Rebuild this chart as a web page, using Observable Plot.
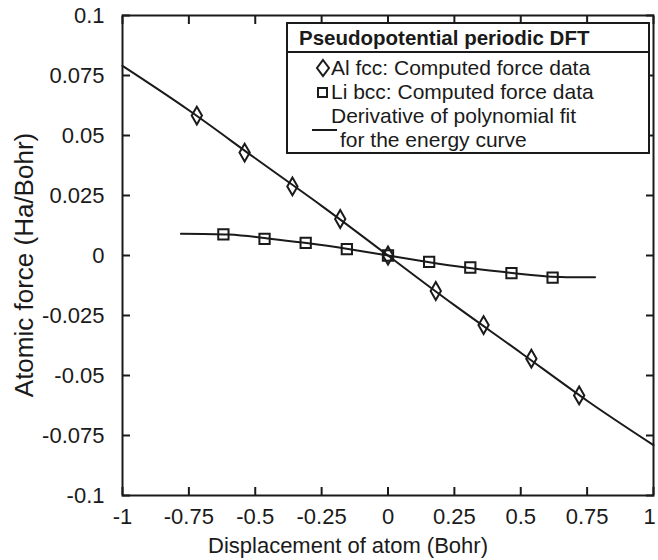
<!DOCTYPE html>
<html>
<head>
<meta charset="utf-8">
<script src="https://cdn.jsdelivr.net/npm/d3@7"></script>
<script src="https://cdn.jsdelivr.net/npm/@observablehq/plot@0.6"></script>
<style>
  html, body { margin: 0; padding: 0; background: #fff; }
  #chart svg { font-family: "Liberation Sans", Arial, sans-serif; }
</style>
</head>
<body>
<div id="chart"></div>
<script>
// Al fcc computed force data
const alX = [-0.72, -0.54, -0.36, -0.18, 0, 0.18, 0.36, 0.54, 0.72];
const alF = [0.0583, 0.0429, 0.0288, 0.0152, 0, -0.0148, -0.0290, -0.0430, -0.0583];
// Li bcc computed force data
const liX = [-0.62, -0.465, -0.31, -0.155, 0, 0.155, 0.31, 0.465, 0.62];
const liF = [0.0088, 0.0069, 0.0053, 0.0027, 0, -0.0027, -0.0050, -0.0073, -0.0092];
// Derivative of polynomial fit
const alFitX = [-1, -0.75, -0.5, -0.25, 0, 0.25, 0.5, 0.75, 1];
const alFitF = [0.0790, 0.0605, 0.0405, 0.0207, 0, -0.0207, -0.0405, -0.0605, -0.0790];
const liFitX = [-0.78, -0.6, -0.45, -0.3, -0.15, 0, 0.15, 0.3, 0.45, 0.6, 0.78];
const liFitF = [0.0091, 0.0087, 0.0071, 0.0051, 0.0027, 0, -0.0027, -0.0051, -0.0071, -0.0087, -0.0091];

const xTicks = [-1, -0.75, -0.5, -0.25, 0, 0.25, 0.5, 0.75, 1];
const yTicks = [-0.1, -0.075, -0.05, -0.025, 0, 0.025, 0.05, 0.075, 0.1];
const xLabel = "Displacement of atom (Bohr)";
const yLabel = "Atomic force (Ha/Bohr)";
const legendTitle = "Pseudopotential periodic DFT";
const legendItems = ["Al fcc: Computed force data", "Li bcc: Computed force data", "Derivative of polynomial fit", "for the energy curve"];

const al = alX.map((x, i) => ({x, y: alF[i]}));
const li = liX.map((x, i) => ({x, y: liF[i]}));
const alFit = alFitX.map((x, i) => ({x, y: alFitF[i]}));
const liFit = liFitX.map((x, i) => ({x, y: liFitF[i]}));

const fmt = d => d === 0 ? "0" : String(d);
const ink = "#1a1a1a";
const xMax = xTicks[xTicks.length - 1];

const plot = Plot.plot({
  width: 658,
  height: 560,
  marginLeft: 122,
  marginRight: 5,
  marginTop: 15,
  marginBottom: 65,
  style: {fontFamily: '"Liberation Sans", Arial, sans-serif', fontSize: "22px", color: ink, background: "#fff"},
  x: {domain: [-1, 1]},
  y: {domain: [-0.1, 0.1]},
  marks: [
    Plot.line(alFit, {x: "x", y: "y", curve: "natural", stroke: ink, strokeWidth: 2}),
    Plot.line(liFit, {x: "x", y: "y", curve: "natural", stroke: ink, strokeWidth: 2}),
    Plot.dot(al, {x: "x", y: "y", symbol: "diamond", r: 5.4, stroke: ink, strokeWidth: 2, fill: "none"}),
    Plot.dot(li, {x: "x", y: "y", symbol: "square", r: 5.8, stroke: ink, strokeWidth: 2, fill: "none"}),
    Plot.axisX({ticks: xTicks, tickSize: -8, text: null, label: null, stroke: ink, strokeWidth: 2}),
    Plot.axisX({anchor: "top", ticks: xTicks, tickSize: -8, text: null, label: null, stroke: ink, strokeWidth: 2}),
    Plot.axisY({ticks: yTicks, tickSize: -8, text: null, label: null, stroke: ink, strokeWidth: 2}),
    Plot.axisY({anchor: "right", ticks: yTicks, tickSize: -8, text: null, label: null, stroke: ink, strokeWidth: 2}),
    Plot.axisX({ticks: xTicks.filter(t => t !== xMax), tickSize: 0, tickPadding: 13, tickFormat: fmt, fontSize: 22, label: null}),
    Plot.axisX({ticks: [xMax], tickSize: 0, tickPadding: 13, tickFormat: fmt, fontSize: 22, label: null, dx: -4}),
    Plot.axisY({ticks: yTicks, tickSize: 0, tickPadding: 18, tickFormat: fmt, fontSize: 22, label: null}),
    Plot.text([xLabel], {frameAnchor: "bottom", text: d => d, fontSize: 22, textAnchor: "middle", lineAnchor: "middle", dx: -40, dy: 50, fill: ink}),
    Plot.text([yLabel], {frameAnchor: "left", text: d => d, fontSize: 26, rotate: -90, textAnchor: "middle", lineAnchor: "middle", dx: -98, dy: 9.5, fill: ink}),
    Plot.frame({stroke: ink, strokeWidth: 2})
  ]
});
document.getElementById("chart").appendChild(plot);

// Legend box drawn into the plot SVG
const svg = d3.select(plot);
const g = svg.append("g")
  .attr("font-family", '"Liberation Sans", Arial, sans-serif')
  .attr("text-anchor", "start")
  .attr("fill", ink);
g.append("rect").attr("x", 287).attr("y", 23).attr("width", 362).attr("height", 130)
  .attr("fill", "#fff").attr("stroke", ink).attr("stroke-width", 2);
g.append("line").attr("x1", 287).attr("x2", 649).attr("y1", 52).attr("y2", 52).attr("stroke", ink).attr("stroke-width", 2);
g.append("text").attr("x", 299).attr("y", 45).attr("font-size", 20.5).attr("font-weight", "bold").text(legendTitle);
g.append("path").attr("d", "M0,-8L6,0L0,8L-6,0Z").attr("transform", "translate(323,68)")
  .attr("fill", "none").attr("stroke", ink).attr("stroke-width", 2);
g.append("rect").attr("x", 318).attr("y", 88).attr("width", 9).attr("height", 9)
  .attr("fill", "none").attr("stroke", ink).attr("stroke-width", 2);
g.append("line").attr("x1", 312).attr("x2", 337).attr("y1", 130).attr("y2", 130).attr("stroke", ink).attr("stroke-width", 2);
const rowsY = [75, 99, 123, 147];
legendItems.forEach((t, i) => {
  g.append("text").attr("x", i === 3 ? 340 : 331).attr("y", rowsY[i]).attr("font-size", 21).attr("fill", ink).text(t);
});
</script>
</body>
</html>
